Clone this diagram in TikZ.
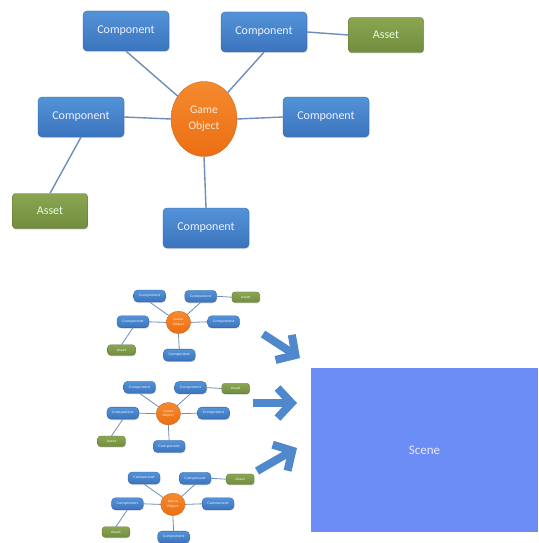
\documentclass[tikz,border=0pt]{standalone}
\usepackage{fontspec}
\setmainfont{Carlito}
\usetikzlibrary{arrows.meta,shadows,shapes.geometric}
\definecolor{compTop}{HTML}{5393D8}
\definecolor{compBot}{HTML}{3B74BE}
\definecolor{assetTop}{HTML}{8AA652}
\definecolor{assetBot}{HTML}{728D3E}
\definecolor{goTop}{HTML}{F58A2E}
\definecolor{goBot}{HTML}{EC6E14}
\definecolor{linkcol}{HTML}{6F8DB8}
\definecolor{arrowcol}{HTML}{4F88CC}
\definecolor{scenecol}{HTML}{6D8DF6}
\tikzset{
  compbox/.style={rectangle, rounded corners=4pt, minimum width=86pt, minimum height=40pt, inner sep=0pt,
    top color=compTop, bottom color=compBot, draw=compBot!80!black, line width=0.3pt, text=white!94!blue,
    font=\fontsize{12}{14}\selectfont, drop shadow={opacity=0.25, shadow xshift=0.6pt, shadow yshift=-1pt}},
  assetbox/.style={rectangle, rounded corners=3pt, minimum width=75pt, minimum height=35pt, inner sep=0pt,
    top color=assetTop, bottom color=assetBot, draw=assetBot!80!black, line width=0.3pt, text=white!88!green,
    font=\fontsize{12}{14}\selectfont, drop shadow={opacity=0.25, shadow xshift=0.6pt, shadow yshift=-1pt}},
  gobox/.style={ellipse, minimum width=66pt, minimum height=75pt, inner sep=0pt,
    top color=goTop, bottom color=goBot, draw=goBot!85!black, line width=0.3pt, text=white!85!orange,
    font=\fontsize{11.5}{16}\selectfont, align=center},
  link/.style={draw=linkcol, line width=1.4pt},
  bigarrow/.style={draw=arrowcol, line width=8pt, -{Straight Barb[length=14pt,width=30pt]}},
  scenebox/.style={rectangle, fill=scenecol, minimum width=227pt, minimum height=164pt, inner sep=0pt,
    text=white!92!blue, font=\fontsize{13}{15}\selectfont}
}
% #1 = name prefix, #2 = link width
\newcommand{\gameobjdiagram}[2]{%
  \node[compbox] (#1c1) at (126,31) {Component};
  \node[compbox] (#1c2) at (264,32) {Component};
  \node[assetbox] (#1a1) at (386,35) {Asset};
  \node[compbox] (#1c3) at (81,117) {Component};
  \node[compbox] (#1c4) at (326,117) {Component};
  \node[assetbox] (#1a2) at (50,211) {Asset};
  \node[compbox] (#1c5) at (206,228) {Component};
  \node[gobox] (#1go) at (204,119) {Game\\Object};
  \draw[link, line width=#2] (#1c1.south) -- (#1go);
  \draw[link, line width=#2] (#1c2.south) -- (#1go);
  \draw[link, line width=#2] (#1c2.east) -- (#1a1.west);
  \draw[link, line width=#2] (#1c3.east) -- (#1go.west);
  \draw[link, line width=#2] (#1c4.west) -- (#1go.east);
  \draw[link, line width=#2] (#1c5.north) -- (#1go.south);
  \draw[link, line width=#2] (#1c3.south) -- (#1a2.north);
}
\begin{document}
\begin{tikzpicture}[x=1pt,y=-1pt]
  \useasboundingbox (0,0) rectangle (538,543);
  \fill[white] (0,0) rectangle (538,543);
  \gameobjdiagram{m}{1.4pt}
  \begin{scope}[shift={(103,286.7)}, xscale=0.37, yscale=0.30, transform shape]
    \gameobjdiagram{p}{0.8pt}
  \end{scope}
  \begin{scope}[shift={(92.9,378)}, xscale=0.37, yscale=0.30, transform shape]
    \gameobjdiagram{q}{0.8pt}
  \end{scope}
  \begin{scope}[shift={(97.4,468.7)}, xscale=0.37, yscale=0.30, transform shape]
    \gameobjdiagram{r}{0.8pt}
  \end{scope}
  \node[scenebox] (scene) at (424.5,450) {Scene};
  \coordinate (t1) at (263,334); \coordinate (h1) at (300,358);
  \coordinate (t2) at (253,403); \coordinate (h2) at (297,403);
  \coordinate (t3) at (257,471); \coordinate (h3) at (297,448);
  \draw[bigarrow] (t1) -- (h1);
  \draw[bigarrow] (t2) -- (h2);
  \draw[bigarrow] (t3) -- (h3);
\end{tikzpicture}
\end{document}
